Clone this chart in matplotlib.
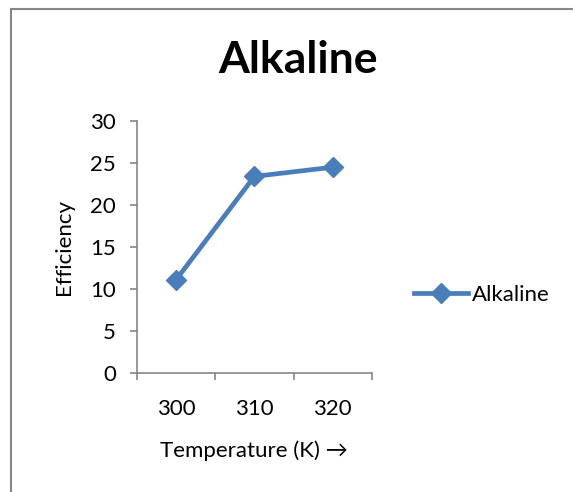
import matplotlib
matplotlib.use("Agg")
import matplotlib.pyplot as plt
from matplotlib.patches import Rectangle

temps = ["300", "310", "320"]
efficiency = [11.1, 23.4, 24.5]
series_name = "Alkaline"

plt.rcParams['font.family'] = ['Lato', 'DejaVu Sans']

fig = plt.figure(figsize=(5.73, 4.92), dpi=100)
ax = fig.add_axes([0.239, 0.2419, 0.41, 0.5122])

blue = '#4A7EBB'
x = list(range(len(temps)))
ax.plot(x, efficiency, color=blue, lw=3.4, marker='D', markersize=10,
        label=series_name, solid_joinstyle='round')

ax.set_xlim(-0.5, len(temps) - 0.5)
ax.set_ylim(0, 30)
ax.set_yticks(range(0, 31, 5))

# category axis: tick marks between categories, labels at centres
ax.set_xticks([i - 0.5 for i in range(len(temps) + 1)])
ax.set_xticklabels([])
ax.set_xticks(x, minor=True)
ax.set_xticklabels(temps, minor=True)
ax.tick_params(axis='x', which='minor', length=0, pad=19, labelsize=16)
ax.tick_params(axis='x', which='major', length=5, width=1.2, color='#868686')
ax.tick_params(axis='y', length=5, width=1.2, color='#868686', labelsize=16, pad=10)

for side in ['top', 'right']:
    ax.spines[side].set_visible(False)
for side in ['left', 'bottom']:
    ax.spines[side].set_color('#868686')
    ax.spines[side].set_linewidth(1.2)

ax.set_ylabel("Efficiency", fontsize=16, labelpad=12)
ax.set_xlabel("Temperature (K) \u2192", fontsize=16, labelpad=15)

fig.text(0.52, 0.878, "Alkaline", ha='center', va='center',
         fontsize=32, fontweight='bold')

ax.legend(loc='center left', bbox_to_anchor=(1.095, 0.31), frameon=False,
          fontsize=16, handlelength=2.4, handletextpad=0.2)

# chart area border (runs off the right and bottom edges)
fig.patches.append(Rectangle((11 / 573, -0.1), 1.2, 1 - 9 / 492 + 0.1,
                             transform=fig.transFigure, fill=False,
                             edgecolor='#868686', lw=1.5))

fig.savefig("out.png", dpi=100)
